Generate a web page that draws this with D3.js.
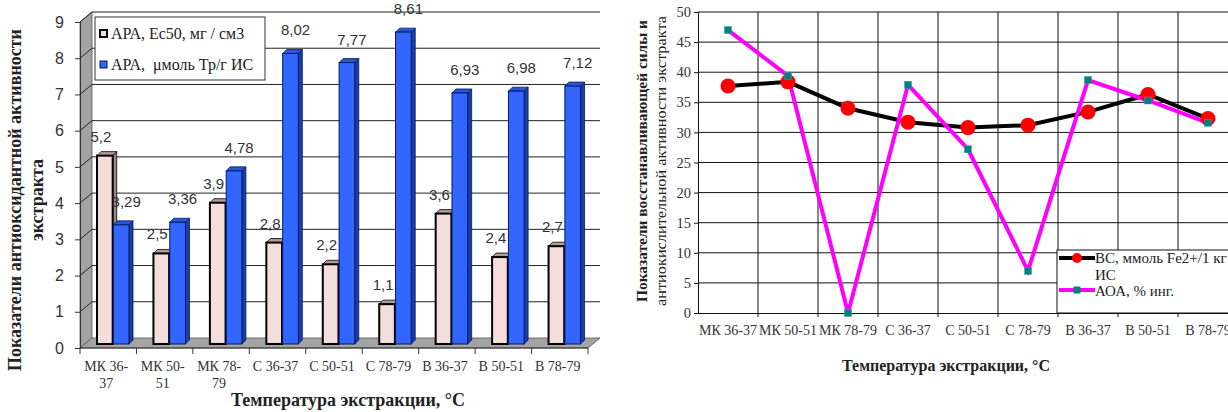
<!DOCTYPE html>
<html>
<head>
<meta charset="utf-8">
<script src="https://cdn.jsdelivr.net/npm/d3@7"></script>
<style>
  body { margin: 0; background: #fff; }
  svg { display: block; }
</style>
</head>
<body>
<div id="chart"></div>
<script>
// Données
const categories = ["МК 36-37", "МК 50-51", "МК 78-79", "С 36-37", "С 50-51", "С 78-79", "В 36-37", "В 50-51", "В 78-79"];
const apaEc50 = [5.2, 2.5, 3.9, 2.8, 2.2, 1.1, 3.6, 2.4, 2.7];
const apaTrolox = [3.29, 3.36, 4.78, 8.02, 7.77, 8.61, 6.93, 6.98, 7.12];
const bcValues = [37.7, 38.4, 34.0, 31.7, 30.8, 31.2, 33.4, 36.3, 32.3];
const aoaValues = [47.0, 39.4, 0, 37.9, 27.2, 7.0, 38.7, 35.3, 31.6];
const leftTicks = [0, 1, 2, 3, 4, 5, 6, 7, 8, 9];
const rightTicks = [0, 5, 10, 15, 20, 25, 30, 35, 40, 45, 50];
const leftLegend = ["АРА, Ес50, мг / см3", "АРА,  μмоль Тр/г ИС"];
const rightLegend = [["ВС, ммоль Fe2+/1 кг", "ИС"], ["АОА, % инг."]];

const SERIF = "'Liberation Serif', 'Times New Roman', serif";
const SANS = "'Liberation Sans', Arial, sans-serif";
const fmt = v => String(v).replace(".", ",");

const svg = d3.select("#chart").append("svg")
    .attr("width", 1228)
    .attr("height", 412)
    .style("font-family", SERIF);

// ---------- GRAPHIQUE GAUCHE (barres 3D) ----------
function drawBars() {
    const g = svg.append("g");
    const depth = { dx: 12, dy: -10 };   // profondeur du mur
    const bd = 4;                          // profondeur des barres

    const x = d3.scaleBand().domain(categories).range([80, 588]);
    const sub = d3.scaleBand().domain([0, 1]).range([17, 49]).paddingInner(0.04);
    const y = d3.scaleLinear().domain([0, 9]).range([348, 22]);
    const yb = v => y(v) - bd;

    // mur latéral gauche
    g.append("path")
        .attr("d", `M80,${y(0)}L80,${y(9)}L${80 + depth.dx},${y(9) + depth.dy}L${80 + depth.dx},${y(0) + depth.dy}Z`)
        .attr("fill", "#a3a3a3").attr("stroke", "#555").attr("stroke-width", 0.8);
    // sol
    g.append("path")
        .attr("d", `M80,${y(0)}L588,${y(0)}L${588 + depth.dx},${y(0) + depth.dy}L${80 + depth.dx},${y(0) + depth.dy}Z`)
        .attr("fill", "#a3a3a3").attr("stroke", "#555").attr("stroke-width", 0.8);

    // grille
    g.selectAll(".grid").data(leftTicks.filter(t => t > 0)).enter().append("path")
        .attr("d", t => `M80,${y(t)}L${80 + depth.dx},${y(t) + depth.dy}L${588 + depth.dx},${y(t) + depth.dy}`)
        .attr("fill", "none").attr("stroke", "#222").attr("stroke-width", 1);

    // axes
    const yAxis = g.append("g").attr("transform", "translate(80,0)")
        .call(d3.axisLeft(y).tickValues(leftTicks).tickSize(5).tickPadding(11));
    yAxis.selectAll("text").style("font-family", SANS)
        .style("font-size", "16px").attr("fill", "#333");
    yAxis.selectAll("line, path").attr("stroke", "#333");

    g.append("line").attr("x1", 80).attr("x2", 588).attr("y1", y(0)).attr("y2", y(0)).attr("stroke", "#333");
    g.selectAll(".xtick").data(d3.range(categories.length + 1)).enter().append("line")
        .attr("x1", i => 80 + i * x.bandwidth()).attr("x2", i => 80 + i * x.bandwidth())
        .attr("y1", y(0)).attr("y2", y(0) + 6).attr("stroke", "#333");

    // étiquettes catégories (retour à la ligne si trop long)
    categories.forEach(c => {
        const cx = x(c) + x.bandwidth() / 2 - 2;
        const t = g.append("text")
            .attr("x", cx).attr("y", 371)
            .attr("text-anchor", "middle")
            .style("font-family", SERIF)
            .style("font-size", "14px").attr("fill", "#333")
            .text(c);
        if (t.node().getComputedTextLength() > 54) {
            const k = c.lastIndexOf("-") + 1;
            t.text(null);
            t.append("tspan").attr("x", cx).text(c.slice(0, k));
            t.append("tspan").attr("x", cx).attr("dy", 17).text(c.slice(k));
        }
    });

    // barres
    const series = [
        { values: apaEc50, front: "#f3dedc", side: "#9c8582", top: "#b39b98", stroke: "#000", sw: 2 },
        { values: apaTrolox, front: "#3366ff", side: "#1c3ca8", top: "#2a55d8", stroke: "#001a66", sw: 1 }
    ];
    series.forEach((s, si) => {
        categories.forEach((c, i) => {
            const x0 = x(c) + sub(si), w = sub.bandwidth();
            const top = yb(s.values[i]), bot = yb(0);
            g.append("path")
                .attr("d", `M${x0 + w},${top}L${x0 + w + bd},${top - bd}L${x0 + w + bd},${bot - bd}L${x0 + w},${bot}Z`)
                .attr("fill", s.side).attr("stroke", s.stroke).attr("stroke-width", 0.8);
            g.append("path")
                .attr("d", `M${x0},${top}L${x0 + bd},${top - bd}L${x0 + w + bd},${top - bd}L${x0 + w},${top}Z`)
                .attr("fill", s.top).attr("stroke", s.stroke).attr("stroke-width", 0.8);
            g.append("rect")
                .attr("x", x0).attr("y", top).attr("width", w).attr("height", bot - top)
                .attr("fill", s.front).attr("stroke", s.stroke).attr("stroke-width", s.sw);
        });
    });

    // valeurs
    series.forEach((s, si) => {
        g.selectAll(".lbl" + si).data(s.values).enter().append("text")
            .attr("x", (d, i) => x(categories[i]) + sub(si) + sub.bandwidth() / 2 + (si ? 5 : -4))
            .attr("y", d => yb(d) - (si ? 18 : 14))
            .attr("text-anchor", "middle")
            .style("font-family", SANS)
            .style("font-size", "15px").attr("fill", "#333")
            .text(fmt);
    });

    // légende
    const lg = g.append("g");
    lg.append("rect").attr("x", 95).attr("y", 17).attr("width", 170).attr("height", 63)
        .attr("fill", "#fff").attr("stroke", "#333");
    leftLegend.forEach((txt, i) => {
        const s = series[i];
        lg.append("rect").attr("x", 100).attr("y", 30 + i * 31).attr("width", 7).attr("height", 7)
            .attr("fill", s.front).attr("stroke", s.stroke).attr("stroke-width", s.sw);
        lg.append("text").attr("x", 111).attr("y", 39 + i * 31)
            .style("font-family", SERIF)
            .style("font-size", "16px").style("white-space", "pre").attr("fill", "#222")
            .text(txt);
    });

    // titres
    const yt = g.append("text").attr("transform", "translate(21,200) rotate(-90)")
        .attr("text-anchor", "middle").style("font-family", SERIF)
        .style("font-size", "18px").style("font-weight", "bold").attr("fill", "#222");
    yt.append("tspan").attr("x", 0).text("Показатели антиоксидантной активности");
    yt.append("tspan").attr("x", 0).attr("dy", 22).text("экстракта");

    g.append("text").attr("x", 348).attr("y", 406).attr("text-anchor", "middle")
        .style("font-family", SERIF)
        .style("font-size", "18px").style("font-weight", "bold").attr("fill", "#222")
        .text("Температура экстракции, °С");
}

// ---------- GRAPHIQUE DROITE (lignes) ----------
function drawLines() {
    const g = svg.append("g");
    const x = d3.scaleBand().domain(categories).range([698, 1238]);
    const y = d3.scaleLinear().domain([0, 50]).range([313, 12]);
    const cx = c => x(c) + x.bandwidth() / 2;

    // grille
    g.selectAll(".hg").data(rightTicks.filter(t => t > 0)).enter().append("line")
        .attr("x1", 698).attr("x2", 1238).attr("y1", y).attr("y2", y)
        .attr("stroke", "#111").attr("stroke-width", 1);
    g.selectAll(".vg").data(d3.range(1, categories.length + 1)).enter().append("line")
        .attr("x1", i => 698 + i * x.bandwidth()).attr("x2", i => 698 + i * x.bandwidth())
        .attr("y1", y(50)).attr("y2", y(0) + 4)
        .attr("stroke", "#111").attr("stroke-width", 1);

    // axes
    const yAxis = g.append("g").attr("transform", "translate(698,0)")
        .call(d3.axisLeft(y).tickValues(rightTicks).tickSize(4).tickPadding(3));
    yAxis.selectAll("text").style("font-family", SERIF).style("font-size", "14.5px").attr("fill", "#333");
    yAxis.selectAll("line, path").attr("stroke", "#111");

    const xAxis = g.append("g").attr("transform", `translate(0,${y(0)})`)
        .call(d3.axisBottom(x).tickSize(0).tickPadding(12));
    xAxis.selectAll("text").style("font-family", SERIF).style("font-size", "14px").attr("fill", "#333");
    xAxis.select(".domain").attr("stroke", "#111");

    // séries
    const line = d3.line().x((d, i) => cx(categories[i])).y(d => y(d));
    g.append("path").datum(bcValues).attr("d", line)
        .attr("fill", "none").attr("stroke", "#000").attr("stroke-width", 4);
    g.append("path").datum(aoaValues).attr("d", line)
        .attr("fill", "none").attr("stroke", "#ff00ff").attr("stroke-width", 4);

    g.selectAll(".bc").data(bcValues).enter().append("circle")
        .attr("cx", (d, i) => cx(categories[i])).attr("cy", y).attr("r", 7.5)
        .attr("fill", "#ff0000");
    g.selectAll(".aoa").data(aoaValues).enter().append("rect")
        .attr("x", (d, i) => cx(categories[i]) - 3.5).attr("y", d => y(d) - 3.5)
        .attr("width", 7).attr("height", 7)
        .attr("fill", "#008080").attr("stroke", "#3a9a9a").attr("stroke-width", 0.5);

    // légende
    const lg = g.append("g");
    lg.append("rect").attr("x", 1057).attr("y", 250).attr("width", 200).attr("height", 63)
        .attr("fill", "#fff").attr("stroke", "#111");
    lg.append("line").attr("x1", 1059).attr("x2", 1095).attr("y1", 258).attr("y2", 258)
        .attr("stroke", "#000").attr("stroke-width", 4);
    lg.append("circle").attr("cx", 1077).attr("cy", 258).attr("r", 5).attr("fill", "#ff0000");
    lg.append("line").attr("x1", 1059).attr("x2", 1095).attr("y1", 290).attr("y2", 290)
        .attr("stroke", "#ff00ff").attr("stroke-width", 4);
    lg.append("rect").attr("x", 1073.5).attr("y", 286.5).attr("width", 7).attr("height", 7).attr("fill", "#008080");
    const lt = lg.append("text").style("font-family", SERIF).style("font-size", "15px").attr("fill", "#222");
    lt.append("tspan").attr("x", 1095).attr("y", 263).text(rightLegend[0][0]);
    lt.append("tspan").attr("x", 1095).attr("y", 280).text(rightLegend[0][1]);
    lt.append("tspan").attr("x", 1095).attr("y", 296).text(rightLegend[1][0]);

    // titres (deux lignes, étirées à la hauteur du graphique)
    const yTitle = [
        { text: "Показатели восстанавливающей силы и", dx: 647, len: 282, weight: "bold" },
        { text: "антиокислительной активности экстракта", dx: 666, len: 290, weight: "normal" }
    ];
    yTitle.forEach(t => {
        g.append("text").attr("transform", `translate(${t.dx},161) rotate(-90)`)
            .attr("x", -t.len / 2).attr("y", 0)
            .attr("textLength", t.len).attr("lengthAdjust", "spacingAndGlyphs")
            .style("font-family", SERIF).style("font-size", "15px").style("font-weight", t.weight)
            .attr("fill", "#222")
            .text(t.text);
    });

    g.append("text").attr("x", 946).attr("y", 371).attr("text-anchor", "middle")
        .style("font-family", SERIF)
        .style("font-size", "16px").style("font-weight", "bold").attr("fill", "#222")
        .text("Температура экстракции, °С");
}

drawBars();
drawLines();
</script>
</body>
</html>
